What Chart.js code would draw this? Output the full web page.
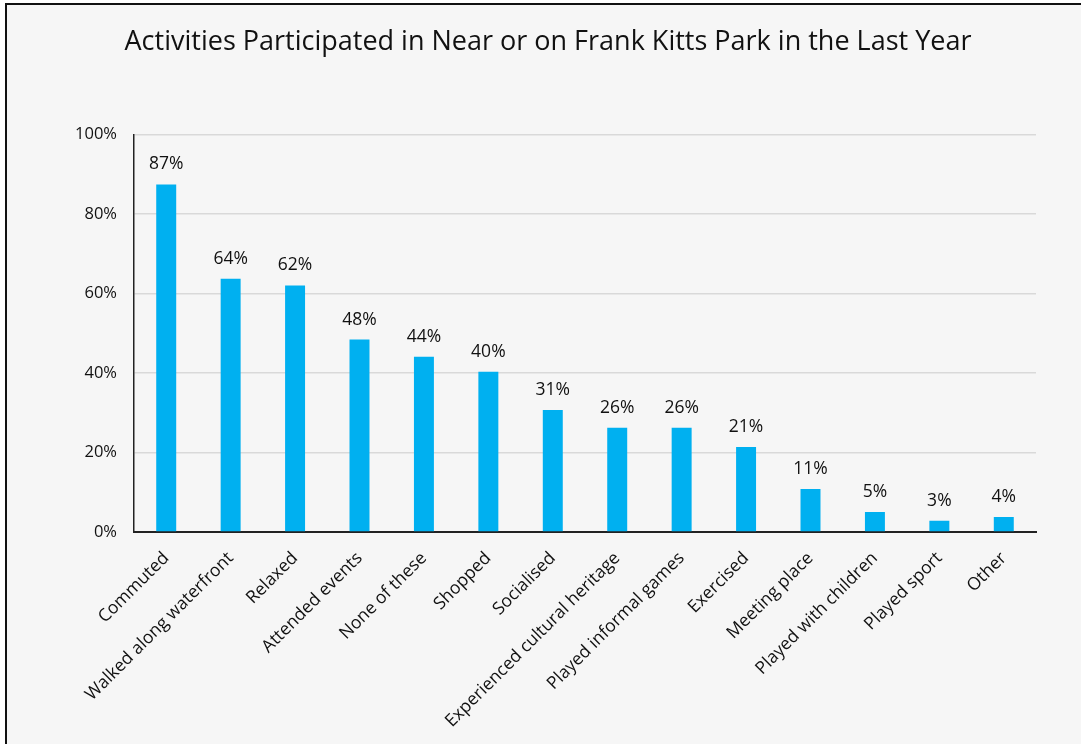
<!DOCTYPE html>
<html>
<head>
<meta charset="utf-8">
<script src="https://cdn.jsdelivr.net/npm/chart.js@4"></script>
<style>
    html, body { margin: 0; padding: 0; background: #ffffff; overflow: hidden; }
    #frame {
        position: absolute;
        left: 5px;
        top: 3px;
        width: 1082px;
        height: 760px;
        border: 2px solid #111;
        background: #f6f6f6;
    }
    #wrap { position: relative; width: 1082px; height: 745px; }
</style>
</head>
<body>
<div id="frame">
    <div id="wrap"><canvas id="chart"></canvas></div>
</div>
<script>
// Chart data
const categories = [
    'Commuted', 'Walked along waterfront', 'Relaxed', 'Attended events', 'None of these',
    'Shopped', 'Socialised', 'Experienced cultural heritage', 'Played informal games',
    'Exercised', 'Meeting place', 'Played with children', 'Played sport', 'Other'
];
const shares = [87.4, 63.7, 62.0, 48.4, 44.1, 40.3, 30.7, 26.2, 26.2, 21.4, 10.8, 5.0, 2.8, 3.8];
const yTicks = [0, 20, 40, 60, 80, 100];

const fontFamily = '"Open Sans", Lato, sans-serif';

// Draw the percentage above each bar
const barLabels = {
    id: 'barLabels',
    afterDatasetsDraw(chart) {
        const ctx = chart.ctx;
        const meta = chart.getDatasetMeta(0);
        ctx.save();
        ctx.font = '17.5px ' + fontFamily;
        ctx.fillStyle = '#111';
        ctx.textAlign = 'center';
        ctx.textBaseline = 'middle';
        meta.data.forEach((bar, i) => {
            ctx.fillText(Math.round(shares[i]) + '%', bar.x, bar.y - 20);
        });
        ctx.restore();
    }
};

document.addEventListener('DOMContentLoaded', function() {
    const ctx = document.getElementById('chart').getContext('2d');
    new Chart(ctx, {
        type: 'bar',
        data: {
            labels: categories,
            datasets: [{
                data: shares,
                backgroundColor: '#00b0f0',
                borderWidth: 0,
                categoryPercentage: 1,
                barPercentage: 0.31
            }]
        },
        options: {
            responsive: true,
            maintainAspectRatio: false,
            animation: false,
            layout: { padding: 0 },
            plugins: {
                legend: { display: false },
                tooltip: { enabled: false },
                title: {
                    display: true,
                    text: 'Activities Participated in Near or on Frank Kitts Park in the Last Year',
                    color: '#111',
                    font: { family: fontFamily, size: 27, weight: 'normal' },
                    padding: { top: 21, bottom: 76 }
                }
            },
            scales: {
                x: {
                    grid: { display: false, drawTicks: false },
                    border: { display: true, color: '#222', width: 2 },
                    ticks: {
                        color: '#111',
                        font: { family: fontFamily, size: 17.5 },
                        minRotation: 45,
                        maxRotation: 45,
                        autoSkip: false,
                        padding: 16
                    },
                    afterFit(scale) { scale.height = 218; }
                },
                y: {
                    min: 0,
                    max: 100,
                    afterBuildTicks(scale) {
                        scale.ticks = yTicks.map(v => ({ value: v }));
                    },
                    grid: { color: '#d9d9d9', lineWidth: 1.5, drawTicks: false },
                    border: { display: true, color: '#222', width: 1.5 },
                    ticks: {
                        color: '#111',
                        font: { family: fontFamily, size: 16.5 },
                        padding: 17,
                        callback: v => v + '%'
                    },
                    afterFit(scale) { scale.width = 127; }
                },
                // empty spacer on the right so the plot ends where the original does
                spacer: {
                    type: 'linear',
                    position: 'right',
                    grid: { display: false, drawTicks: false },
                    border: { display: false },
                    ticks: { display: false },
                    afterFit(scale) { scale.width = 53; }
                }
            }
        },
        plugins: [barLabels]
    });
});
</script>
</body>
</html>
